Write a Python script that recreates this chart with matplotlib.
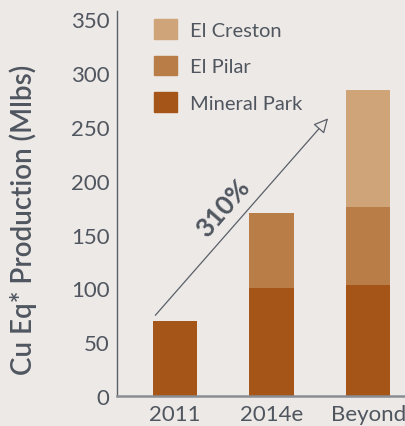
import matplotlib
matplotlib.use("Agg")
import matplotlib.pyplot as plt
from matplotlib.patches import Patch

# data
years = ["2011", "2014e", "Beyond"]
mineral_park = [70, 100, 103]
el_pilar = [0, 70, 73]
el_creston = [0, 0, 108]
y_ticks = [0, 50, 100, 150, 200, 250, 300, 350]

bg = "#ede9e6"
text_col = "#50565f"
c_mp = "#a55518"
c_ep = "#b97d48"
c_ec = "#d0a479"

plt.rcParams["font.family"] = ["Lato", "DejaVu Sans"]

fig = plt.figure(figsize=(4.05, 4.27), dpi=100, facecolor=bg)
ax = fig.add_axes([0.288, 0.0703, 0.712, 0.9023])
ax.set_facecolor(bg)

x = list(range(len(years)))
w = 0.456
ax.bar(x, mineral_park, width=w, color=c_mp)
bot2 = mineral_park
ax.bar(x, el_pilar, width=w, bottom=bot2, color=c_ep)
bot3 = [a + b for a, b in zip(mineral_park, el_pilar)]
ax.bar(x, el_creston, width=w, bottom=bot3, color=c_ec)

ax.set_xlim(-0.6, 2.38)
ax.set_ylim(0, 358)
ax.set_yticks(y_ticks)
ax.set_xticks(x)
ax.set_xticklabels(years)

for s in ["top", "right"]:
    ax.spines[s].set_visible(False)
ax.spines["left"].set_color("#5a6068")
ax.spines["left"].set_linewidth(1.0)
ax.spines["bottom"].set_color("#8a8d91")
ax.spines["bottom"].set_linewidth(1.8)
ax.tick_params(length=0, labelsize=16, labelcolor=text_col)
ax.tick_params(axis="y", pad=5)
ax.tick_params(axis="x", pad=6)

ax.set_ylabel("Cu Eq* Production (Mlbs)", fontsize=20, color=text_col,
              fontweight="semibold")
ax.yaxis.set_label_coords(-0.276, 0.459)

# growth arrow
ax.annotate("", xy=(1.585, 258), xytext=(-0.2, 75),
            arrowprops=dict(arrowstyle="-|>", color="#5a6068", fc=bg,
                            lw=0.9, mutation_scale=22, shrinkA=0, shrinkB=0))
ax.text(0.5, 175, "310%", rotation=49, ha="center", va="center",
        fontsize=19, fontweight="bold", color=text_col)

handles = [Patch(color=c_ec), Patch(color=c_ep), Patch(color=c_mp)]
fig.legend(handles, ["El Creston", "El Pilar", "Mineral Park"],
           loc="upper left", bbox_to_anchor=(154 / 405, 1 - 20 / 427),
           frameon=False, fontsize=14.5, handlelength=1.15, handleheight=1.15,
           labelspacing=0.82, handletextpad=0.62, borderpad=0, borderaxespad=0,
           labelcolor=text_col)

fig.savefig("out.png", dpi=100, facecolor=bg)
